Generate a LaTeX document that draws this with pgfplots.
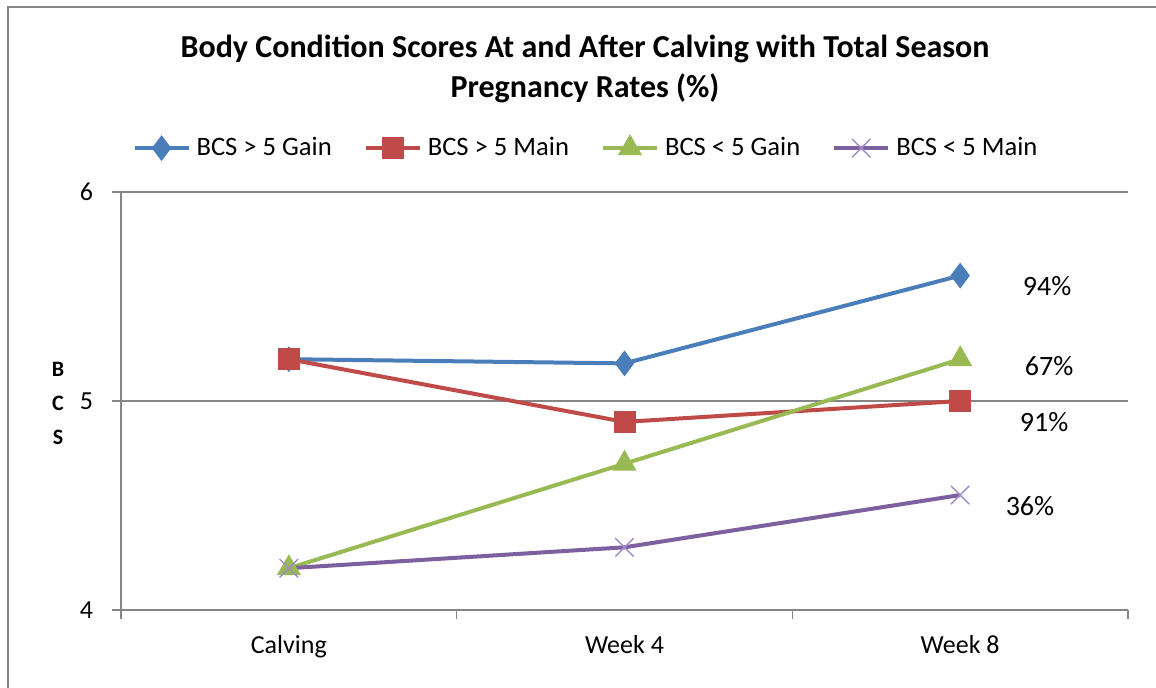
\documentclass[border=0pt]{standalone}
\usepackage{fontspec}
\setmainfont{Carlito}
\usepackage{pgfplots}
\pgfplotsset{compat=1.18}
\definecolor{cblue}{RGB}{74,126,187}
\definecolor{cred}{RGB}{190,75,72}
\definecolor{cgreen}{RGB}{152,185,84}
\definecolor{cpurple}{RGB}{125,96,160}
\definecolor{cpurplel}{RGB}{160,140,200}
\definecolor{axgray}{RGB}{134,134,134}
\begin{document}
\begin{tikzpicture}[x=1pt,y=1pt]
\useasboundingbox (0,0) rectangle (578,343.5);
\draw[axgray, line width=1pt] (4,-5) -- (4,339.75) -- (590,339.75);
\node[font=\bfseries\fontsize{16}{20}\selectfont, align=center] at (292.5,309)
  {Body Condition Scores At and After Calving with Total Season\\Pregnancy Rates (\%)};
\begin{axis}[
  at={(60.5pt,38.5pt)}, anchor=south west,
  scale only axis, width=503.5pt, height=209pt,
  xmin=-0.5, xmax=2.5, ymin=4, ymax=6,
  axis x line=bottom, axis y line=left,
  axis line style={-, axgray, line width=0.75pt},
  tick style={axgray, line width=0.75pt},
  tick align=outside, tick pos=left,
  major tick length=4.5pt,
  xtick={-0.5,0.5,1.5,2.5}, xticklabels={},
  extra x ticks={0,1,2},
  extra x tick labels={Calving,Week 4,Week 8},
  extra x tick style={major tick length=0pt,
     xticklabel style={yshift=-9pt}},
  ytick={4,5,6},
  yticklabel style={xshift=-6pt},
  ymajorgrids, grid style={axgray, line width=0.75pt},
  tick label style={font=\fontsize{13}{15}\selectfont},
  /pgf/number format/assume math mode=true,
  ylabel={B\\C\\S},
  ylabel style={rotate=-90, align=center, at={(axis description cs:-0.0626,0.495)}, anchor=center,
     font=\bfseries\fontsize{11}{17}\selectfont},
  clip=false,
  legend columns=4,
  legend style={at={(axis description cs:0.4628,1.105)}, anchor=center, draw=none, fill=none,
     font=\fontsize{13.3}{15}\selectfont,
     /tikz/every odd column/.append style={column sep=1pt},
     /tikz/every even column/.append style={column sep=14pt}},
  legend image code/.code={\draw[mark repeat=2,mark phase=2] plot coordinates {(0pt,0pt) (13.5pt,0pt) (27pt,0pt)};},
]
\addplot[cblue, line width=2pt, mark=diamond*, mark size=4.8pt, mark options={solid}] coordinates {(0,5.20) (1,5.18) (2,5.60)};
\addlegendentry{BCS > 5 Gain}
\addplot[cred, line width=2pt, mark=square*, mark size=4.5pt] coordinates {(0,5.20) (1,4.90) (2,5.00)};
\addlegendentry{BCS > 5 Main}
\addplot[cgreen, line width=2pt, mark=triangle*, mark size=5pt] coordinates {(0,4.20) (1,4.70) (2,5.20)};
\addlegendentry{BCS < 5 Gain}
\addplot[cpurple, line width=2pt, mark=x, mark size=6.5pt, mark options={cpurplel, line width=0.7pt}] coordinates {(0,4.20) (1,4.30) (2,4.55)};
\addlegendentry{BCS < 5 Main}
\node[font=\fontsize{14}{16}\selectfont] at (axis cs:2.259,5.55) {94\%};
\node[font=\fontsize{14}{16}\selectfont] at (axis cs:2.265,5.167) {67\%};
\node[font=\fontsize{14}{16}\selectfont] at (axis cs:2.250,4.90) {91\%};
\node[font=\fontsize{14}{16}\selectfont] at (axis cs:2.208,4.497) {36\%};
\end{axis}
\end{tikzpicture}
\end{document}
